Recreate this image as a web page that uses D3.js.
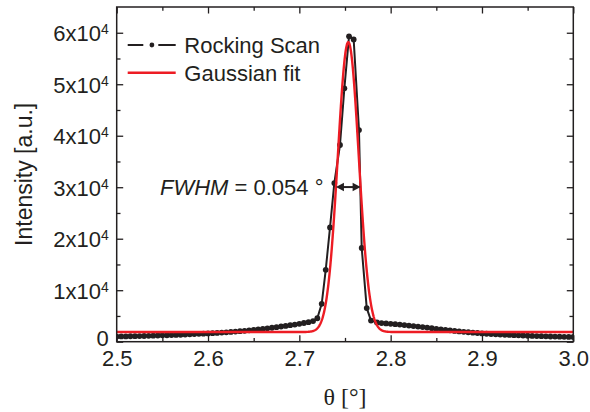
<!DOCTYPE html>
<html>
<head>
<meta charset="utf-8">
<script src="https://cdn.jsdelivr.net/npm/d3@7"></script>
<style>
  html, body { margin: 0; padding: 0; background: #fff; }
  svg { display: block; }
  text { font-family: "Liberation Sans", Arial, Helvetica, sans-serif; fill: #231f20; }
</style>
</head>
<body>
<svg id="chart" width="590" height="412"></svg>
<script>
// Rocking scan: angle θ (°) and measured intensity (a.u.)
const theta = [
  2.500, 2.505, 2.510, 2.515, 2.520, 2.525, 2.530, 2.535, 2.540, 2.545,
  2.550, 2.555, 2.560, 2.565, 2.570, 2.575, 2.580, 2.585, 2.590, 2.595,
  2.600, 2.605, 2.610, 2.615, 2.620, 2.625, 2.630, 2.635, 2.640, 2.645,
  2.650, 2.655, 2.660, 2.665, 2.670, 2.675, 2.680, 2.685, 2.690, 2.695,
  2.700, 2.705, 2.710, 2.715,
  2.7197, 2.7245, 2.7289, 2.7336, 2.7383, 2.7445, 2.7493, 2.7544, 2.7595,
  2.7653, 2.7683, 2.7738, 2.7785,
  2.785, 2.790, 2.795, 2.800, 2.805, 2.810, 2.815, 2.820, 2.825, 2.830,
  2.835, 2.840, 2.845, 2.850, 2.855, 2.860, 2.865, 2.870, 2.875, 2.880,
  2.885, 2.890, 2.895, 2.900, 2.905, 2.910, 2.915, 2.920, 2.925, 2.930,
  2.935, 2.940, 2.945, 2.950, 2.955, 2.960, 2.965, 2.970, 2.975, 2.980,
  2.985, 2.990, 2.995, 3.000
];
const intensity = [
  1000, 1020, 1030, 1060, 1080, 1100, 1110, 1150, 1170, 1200,
  1230, 1250, 1290, 1320, 1350, 1400, 1430, 1480, 1520, 1560,
  1610, 1650, 1710, 1770, 1820, 1900, 1960, 2040, 2110, 2200,
  2290, 2380, 2490, 2590, 2710, 2820, 2950, 3060, 3200, 3320,
  3480, 3630, 3800, 4000,
  4550, 7360, 13950, 22200, 30800, 38200, 49200, 59300, 58700,
  41100, 18200, 6530, 4100,
  3750, 3620, 3550, 3480, 3400, 3320, 3230, 3140, 3040, 2940,
  2840, 2740, 2620, 2500, 2400, 2300, 2200, 2100, 2000, 1920,
  1840, 1760, 1690, 1600, 1540, 1490, 1440, 1390, 1350, 1310,
  1270, 1230, 1200, 1160, 1130, 1100, 1070, 1040, 1010, 990,
  970, 950, 930, 910
];

// Gaussian fit parameters (FWHM quoted in 2θ, so the θ width is half of it)
const fitCenter = 2.7536;
const fitAmplitude = 56300;
const fitBaseline = 1880;
const fwhm2Theta = 0.054;

// Axis ticks and labels
const xTicks = [2.5, 2.6, 2.7, 2.8, 2.9, 3.0];
const xTickLabels = ["2.5", "2.6", "2.7", "2.8", "2.9", "3.0"];
const xMinorTicks = [2.55, 2.65, 2.75, 2.85, 2.95];
const yTicks = [0, 10000, 20000, 30000, 40000, 50000, 60000];
const yTickMantissa = ["0", "1", "2", "3", "4", "5", "6"];
const yMinorTicks = [5000, 15000, 25000, 35000, 45000, 55000];
const seriesNames = ["Rocking Scan", "Gaussian fit"];
const fwhmLabel = ["FWHM", " = 0.054 °"];
const xTitle = "θ [°]";
const yTitle = "Intensity [a.u.]";

const W = 590, H = 412;
const margin = { left: 116.7, right: 16.7, top: 7, bottom: 70.3 };
const x0 = margin.left, x1 = W - margin.right;
const y0 = H - margin.bottom, y1 = margin.top;

const x = d3.scaleLinear().domain([2.5, 3.0]).range([x0, x1]);
const y = d3.scaleLinear().domain([0, 65000]).range([y0, y1]);

const ink = "#231f20";
const red = "#ed1c24";
const svg = d3.select("#chart");

const scan = theta.map((t, i) => ({ t, v: intensity[i] }));

// Gaussian model
const fwhmTheta = fwhm2Theta / 2;
const sigma = fwhmTheta / (2 * Math.sqrt(2 * Math.LN2));
const gauss = t => fitBaseline + fitAmplitude * Math.exp(-((t - fitCenter) ** 2) / (2 * sigma * sigma));
const fitPts = d3.range(0, 1001).map(i => {
  const t = 2.5 + i * 0.0005;
  return { t, v: gauss(t) };
});

const plot = svg.append("g");

// Clip everything to the frame
svg.append("clipPath").attr("id", "frame")
  .append("rect").attr("x", x0).attr("y", y1).attr("width", x1 - x0).attr("height", y0 - y1);
const marks = plot.append("g").attr("clip-path", "url(#frame)");

const line = d3.line().x(d => x(d.t)).y(d => y(d.v));

marks.append("path").datum(scan)
  .attr("d", line).attr("fill", "none")
  .attr("stroke", ink).attr("stroke-width", 2).attr("stroke-linejoin", "round");

marks.append("g").selectAll("circle").data(scan).join("circle")
  .attr("cx", d => x(d.t)).attr("cy", d => y(d.v)).attr("r", 2.9)
  .attr("fill", ink);

marks.append("path").datum(fitPts)
  .attr("d", line).attr("fill", "none")
  .attr("stroke", red).attr("stroke-width", 2.4).attr("stroke-linejoin", "round");

// Axes with inward ticks on all four sides
function styleAxis(g) {
  g.select(".domain").remove();
  g.selectAll(".tick line").attr("stroke", ink).attr("stroke-width", 1.3);
}
const majorLen = 6.5, minorLen = 3.8;
const fontSans = '"Liberation Sans", Arial, sans-serif';

const axBottom = svg.append("g").attr("transform", `translate(0,${y0})`);
axBottom.append("g").call(d3.axisBottom(x).tickValues(xTicks).tickSize(-majorLen).tickPadding(9)
  .tickFormat((d, i) => xTickLabels[i])).call(styleAxis)
  .selectAll("text").attr("font-size", 22).attr("fill", ink).style("font-family", fontSans);
axBottom.append("g").call(d3.axisBottom(x).tickValues(xMinorTicks).tickSize(-minorLen).tickFormat(""))
  .call(styleAxis);

const axTop = svg.append("g").attr("transform", `translate(0,${y1})`);
axTop.append("g").call(d3.axisTop(x).tickValues(xTicks).tickSize(-majorLen).tickFormat("")).call(styleAxis);
axTop.append("g").call(d3.axisTop(x).tickValues(xMinorTicks).tickSize(-minorLen).tickFormat("")).call(styleAxis);

const axLeft = svg.append("g").attr("transform", `translate(${x0},0)`);
const leftMajor = axLeft.append("g").call(d3.axisLeft(y).tickValues(yTicks).tickSize(-majorLen).tickPadding(8))
  .call(styleAxis);
leftMajor.selectAll(".tick text").each(function (d, i) {
  const t = d3.select(this).text(null)
    .attr("font-size", 22).attr("fill", ink)
    .style("font-family", fontSans);
  if (d === 0) {
    // the plain zero sits a little higher, clear of the x labels
    t.attr("dy", "0.18em").append("tspan").text(yTickMantissa[i]);
  } else {
    t.attr("dy", "0.36em");
    t.append("tspan").text(yTickMantissa[i] + "x10");
    t.append("tspan").attr("font-size", 14).attr("dy", -7).text("4");
  }
});
axLeft.append("g").call(d3.axisLeft(y).tickValues(yMinorTicks).tickSize(-minorLen).tickFormat("")).call(styleAxis);

const axRight = svg.append("g").attr("transform", `translate(${x1},0)`);
axRight.append("g").call(d3.axisRight(y).tickValues(yTicks).tickSize(-majorLen).tickFormat("")).call(styleAxis);
axRight.append("g").call(d3.axisRight(y).tickValues(yMinorTicks).tickSize(-minorLen).tickFormat("")).call(styleAxis);

// Frame
svg.append("rect").attr("x", x0).attr("y", y1).attr("width", x1 - x0).attr("height", y0 - y1)
  .attr("fill", "none").attr("stroke", ink).attr("stroke-width", 1.5);

// Axis titles
svg.append("text").attr("transform", `translate(32,${(y0 + y1) / 2}) rotate(-90)`)
  .attr("text-anchor", "middle").attr("font-size", 23).text(yTitle);
svg.append("text").attr("x", (x0 + x1) / 2).attr("y", 405)
  .attr("text-anchor", "middle").attr("font-size", 24)
  .style("font-family", '"Liberation Serif", "Times New Roman", serif').text(xTitle);

// Legend
const legend = svg.append("g");
const lgX0 = 127.7, lgX1 = 175.7, lgTextX = 184.3;
const lgRows = [45, 72.7];
legend.append("line").attr("x1", lgX0).attr("x2", 143.3).attr("y1", lgRows[0]).attr("y2", lgRows[0])
  .attr("stroke", ink).attr("stroke-width", 2);
legend.append("line").attr("x1", 158.3).attr("x2", lgX1).attr("y1", lgRows[0]).attr("y2", lgRows[0])
  .attr("stroke", ink).attr("stroke-width", 2);
legend.append("circle").attr("cx", (lgX0 + lgX1) / 2 + 0.2).attr("cy", lgRows[0]).attr("r", 2.4).attr("fill", ink);
legend.append("line").attr("x1", lgX0).attr("x2", lgX1).attr("y1", lgRows[1]).attr("y2", lgRows[1])
  .attr("stroke", red).attr("stroke-width", 2.4);
seriesNames.forEach((name, i) => {
  legend.append("text").attr("x", lgTextX).attr("y", lgRows[i] + 8).attr("font-size", 22).text(name);
});

// FWHM annotation: double arrow across the fit at half maximum
const halfLevel = fitBaseline + fitAmplitude / 2;
const ay = y(halfLevel);
const ax0 = x(fitCenter - fwhmTheta / 2), ax1 = x(fitCenter + fwhmTheta / 2);
const head = 8, halfW = 4.2;
svg.append("line").attr("x1", ax0 + head - 1).attr("x2", ax1 - head + 1).attr("y1", ay).attr("y2", ay)
  .attr("stroke", ink).attr("stroke-width", 2);
svg.append("path")
  .attr("d", `M${ax0},${ay}L${ax0 + head},${ay - halfW}L${ax0 + head},${ay + halfW}Z`)
  .attr("fill", ink);
svg.append("path")
  .attr("d", `M${ax1},${ay}L${ax1 - head},${ay - halfW}L${ax1 - head},${ay + halfW}Z`)
  .attr("fill", ink);

const ann = svg.append("text").attr("x", 160).attr("y", 195).attr("font-size", 22);
ann.append("tspan").attr("font-style", "italic").text(fwhmLabel[0]);
ann.append("tspan").text(fwhmLabel[1]);
</script>
</body>
</html>
